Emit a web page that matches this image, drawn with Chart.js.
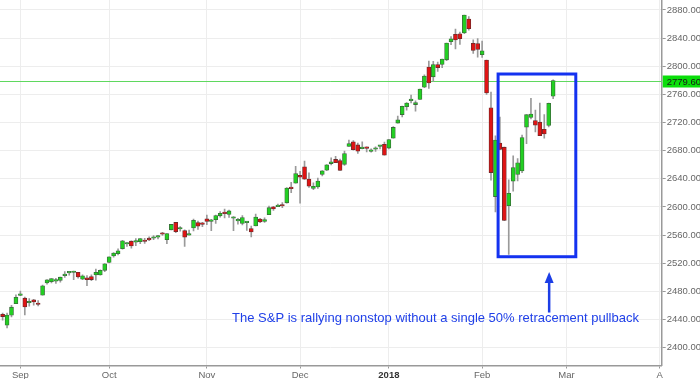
<!DOCTYPE html>
<html><head><meta charset="utf-8">
<script src="https://cdn.jsdelivr.net/npm/chart.js@4.4.1/dist/chart.umd.min.js"></script>
<style>html,body{margin:0;padding:0;background:#fff;overflow:hidden}#wrap{width:700px;height:379px;position:relative}</style>
</head><body><div id="wrap"><canvas id="c"></canvas></div>
<script>
// Trading days (x = index into these arrays)
const dates = ['2017-08-28','2017-08-29','2017-08-30','2017-08-31','2017-09-01','2017-09-05','2017-09-06','2017-09-07','2017-09-08','2017-09-11','2017-09-12','2017-09-13','2017-09-14','2017-09-15','2017-09-18','2017-09-19','2017-09-20','2017-09-21','2017-09-22','2017-09-25','2017-09-26','2017-09-27','2017-09-28','2017-09-29','2017-10-02','2017-10-03','2017-10-04','2017-10-05','2017-10-06','2017-10-09','2017-10-10','2017-10-11','2017-10-12','2017-10-13','2017-10-16','2017-10-17','2017-10-18','2017-10-19','2017-10-20','2017-10-23','2017-10-24','2017-10-25','2017-10-26','2017-10-27','2017-10-30','2017-10-31','2017-11-01','2017-11-02','2017-11-03','2017-11-06','2017-11-07','2017-11-08','2017-11-09','2017-11-10','2017-11-13','2017-11-14','2017-11-15','2017-11-16','2017-11-17','2017-11-20','2017-11-21','2017-11-22','2017-11-24','2017-11-27','2017-11-28','2017-11-29','2017-11-30','2017-12-01','2017-12-04','2017-12-05','2017-12-06','2017-12-07','2017-12-08','2017-12-11','2017-12-12','2017-12-13','2017-12-14','2017-12-15','2017-12-18','2017-12-19','2017-12-20','2017-12-21','2017-12-22','2017-12-26','2017-12-27','2017-12-28','2017-12-29','2018-01-02','2018-01-03','2018-01-04','2018-01-05','2018-01-08','2018-01-09','2018-01-10','2018-01-11','2018-01-12','2018-01-16','2018-01-17','2018-01-18','2018-01-19','2018-01-22','2018-01-23','2018-01-24','2018-01-25','2018-01-26','2018-01-29','2018-01-30','2018-01-31','2018-02-01','2018-02-02','2018-02-05','2018-02-06','2018-02-07','2018-02-08','2018-02-09','2018-02-12','2018-02-13','2018-02-14','2018-02-15','2018-02-16','2018-02-20','2018-02-21','2018-02-22','2018-02-23','2018-02-26'];
const open  = [2447.35,2431.94,2446.06,2462.65,2474.42,2470.35,2463.83,2468.06,2462.25,2474.52,2491.94,2493.89,2494.56,2495.67,2502.51,2506.29,2506.84,2507.16,2497.26,2499.39,2501.04,2503.30,2503.41,2509.96,2521.20,2530.34,2533.48,2540.86,2547.44,2551.39,2549.99,2550.62,2552.88,2555.66,2555.57,2557.17,2562.87,2553.39,2567.56,2578.08,2568.66,2566.52,2560.08,2570.26,2577.75,2575.99,2583.21,2579.46,2581.93,2587.47,2592.11,2589.41,2584.00,2580.18,2576.53,2577.75,2569.45,2572.95,2582.94,2579.49,2589.17,2600.31,2600.42,2602.66,2605.94,2627.82,2633.93,2645.10,2657.19,2639.78,2626.24,2628.38,2646.21,2652.19,2661.73,2667.59,2665.87,2660.63,2685.92,2692.71,2688.18,2683.02,2684.22,2679.09,2682.10,2686.10,2689.15,2683.73,2697.85,2719.31,2731.33,2742.67,2751.15,2745.55,2752.97,2770.18,2798.96,2784.99,2802.40,2802.60,2809.16,2835.05,2845.42,2846.24,2847.48,2867.23,2832.74,2832.41,2816.45,2808.92,2741.06,2614.78,2690.95,2685.01,2601.78,2636.75,2646.27,2651.21,2713.46,2727.14,2722.99,2720.53,2710.42,2715.80,2757.37];
const high  = [2449.12,2449.19,2460.31,2475.01,2480.38,2471.97,2469.64,2468.62,2467.11,2488.95,2496.77,2498.37,2498.43,2500.23,2508.32,2507.84,2508.85,2507.16,2503.47,2502.54,2503.51,2511.75,2510.81,2519.44,2529.23,2535.13,2540.53,2552.51,2549.41,2551.82,2555.23,2555.24,2555.33,2557.65,2559.47,2559.71,2564.11,2562.36,2575.44,2578.29,2572.18,2567.40,2567.07,2582.98,2580.03,2578.29,2588.40,2582.47,2588.42,2593.38,2597.02,2595.47,2586.50,2583.81,2587.66,2579.66,2572.84,2590.09,2583.96,2584.64,2601.19,2600.94,2604.21,2606.41,2627.69,2634.89,2657.74,2650.62,2665.19,2648.72,2634.41,2640.99,2651.65,2660.33,2669.72,2671.88,2668.09,2679.63,2694.97,2694.44,2691.01,2692.64,2685.35,2682.74,2685.64,2687.66,2692.12,2695.89,2714.37,2729.29,2743.45,2748.51,2759.14,2750.80,2767.56,2787.85,2807.54,2807.04,2805.83,2810.33,2833.03,2842.24,2852.97,2848.56,2872.87,2870.62,2837.75,2839.26,2835.96,2808.92,2763.39,2701.04,2727.67,2685.27,2638.67,2672.61,2668.84,2702.10,2731.51,2754.42,2737.60,2747.75,2731.26,2747.76,2780.64];
const low   = [2439.03,2428.20,2443.77,2462.65,2473.85,2446.55,2459.20,2460.29,2459.40,2474.52,2490.37,2492.14,2491.35,2493.16,2499.92,2503.19,2496.67,2499.00,2496.54,2488.03,2495.12,2495.91,2502.93,2507.99,2520.40,2528.85,2531.80,2540.02,2543.79,2541.60,2544.86,2547.95,2548.31,2552.09,2553.52,2554.69,2559.67,2547.92,2567.56,2563.65,2565.58,2544.00,2559.80,2565.94,2568.25,2572.15,2574.92,2566.17,2576.77,2585.66,2584.35,2585.02,2566.33,2575.57,2574.48,2566.56,2557.45,2572.95,2577.62,2578.24,2589.17,2595.23,2600.42,2598.87,2605.44,2620.32,2633.93,2605.52,2639.03,2627.73,2624.75,2626.53,2644.10,2651.47,2659.78,2662.85,2652.01,2659.14,2685.92,2680.74,2676.11,2682.40,2678.13,2677.96,2678.91,2682.69,2673.61,2682.36,2697.77,2719.07,2727.92,2737.60,2747.86,2736.06,2752.78,2769.64,2768.64,2778.38,2792.56,2798.08,2808.12,2830.59,2824.81,2830.94,2846.18,2851.48,2818.27,2813.04,2812.70,2759.97,2638.17,2593.07,2681.33,2580.56,2532.69,2622.45,2637.08,2648.87,2689.82,2725.11,2706.76,2701.29,2697.77,2713.74,2753.78];
const close = [2444.24,2446.30,2457.59,2471.65,2476.55,2457.85,2465.54,2465.10,2461.43,2488.11,2496.48,2498.37,2495.62,2500.23,2503.87,2506.65,2508.24,2500.60,2502.22,2496.66,2496.84,2507.04,2510.06,2519.36,2529.12,2534.58,2537.74,2552.07,2549.33,2544.73,2550.64,2555.24,2550.93,2553.17,2557.64,2559.36,2561.26,2562.10,2575.21,2564.98,2569.13,2557.15,2560.40,2581.07,2572.83,2575.26,2579.36,2579.85,2587.84,2591.13,2590.64,2594.38,2584.62,2582.30,2584.84,2578.87,2564.62,2585.64,2578.85,2582.14,2599.03,2597.08,2602.42,2601.42,2627.04,2626.07,2647.58,2642.22,2639.44,2629.57,2629.27,2636.98,2651.50,2659.99,2664.11,2662.85,2652.01,2675.81,2690.16,2681.47,2679.25,2684.57,2683.34,2680.50,2682.62,2687.54,2673.61,2695.81,2713.06,2723.99,2743.15,2747.71,2751.29,2748.23,2767.56,2786.24,2776.42,2802.56,2798.03,2810.30,2832.97,2839.13,2837.54,2839.25,2872.87,2853.53,2822.43,2823.81,2821.98,2762.13,2648.94,2695.14,2681.66,2581.00,2619.55,2656.00,2662.94,2698.63,2731.20,2732.22,2716.26,2701.33,2703.96,2747.30,2779.60];

// Axis ticks
const monthTickIdx = [4, 24, 46, 67, 87, 108, 127, 148];
const monthTickLabels = ['Sep', 'Oct', 'Nov', 'Dec', '2018', 'Feb', 'Mar', 'A'];
const yTicks = [2400, 2440, 2480, 2520, 2560, 2600, 2640, 2680, 2720, 2760, 2800, 2840, 2880];
const xRange = [-0.59, 148.45];
const yRange = [2374.7, 2894.2];

// Annotation (data units)
const boxX = [111.6, 129.1];
const boxY = [2529.3, 2789.0];
const noteText = 'The S\u0026P is rallying nonstop without a single 50% retracement pullback';
const notePos = [97.5, 2442.0];
const arrowTail = [123.1, 2450.0];
const arrowTip = [123.1, 2507.6];
const lastPrice = close[close.length - 1];

const FONT = '"Liberation Sans", Arial, Helvetica, sans-serif';
const UP = '#22d022', DOWN = '#e01414';

const wickData = dates.map((d, i) => ({ x: i, y: [low[i], high[i]] }));
const bodyData = dates.map((d, i) => ({ x: i, y: [open[i], close[i]] }));
const bodyFill = dates.map((d, i) => close[i] >= open[i] ? UP : DOWN);
const bodyBorder = dates.map((d, i) => close[i] >= open[i] ? '#3a6a3a' : '#6a2a2a');

const overlay = {
  id: 'overlay',
  beforeDatasetsDraw(chart) {
    const { ctx, chartArea: a, scales: { y } } = chart;
    const py = Math.round(y.getPixelForValue(lastPrice)) + 0.5;
    ctx.save();
    ctx.strokeStyle = '#5fd85f';
    ctx.lineWidth = 1;
    ctx.beginPath(); ctx.moveTo(a.left, py); ctx.lineTo(a.right, py); ctx.stroke();
    ctx.restore();
  },
  afterDraw(chart) {
    const { ctx, chartArea: a, scales: { x, y } } = chart;
    ctx.save();
    // blue box
    const x1 = x.getPixelForValue(boxX[0]), x2 = x.getPixelForValue(boxX[1]);
    const y1 = y.getPixelForValue(boxY[1]), y2 = y.getPixelForValue(boxY[0]);
    ctx.strokeStyle = '#1432f0';
    ctx.lineWidth = 3;
    ctx.strokeRect(x1, y1, x2 - x1, y2 - y1);
    // arrow
    const ax = x.getPixelForValue(arrowTip[0]);
    const ty = y.getPixelForValue(arrowTip[1]);
    const by = y.getPixelForValue(arrowTail[1]);
    ctx.strokeStyle = '#1c3ee6';
    ctx.fillStyle = '#1c3ee6';
    ctx.lineWidth = 2.5;
    ctx.beginPath(); ctx.moveTo(ax, by); ctx.lineTo(ax, ty + 8); ctx.stroke();
    ctx.beginPath(); ctx.moveTo(ax, ty); ctx.lineTo(ax - 4.5, ty + 11); ctx.lineTo(ax + 4.5, ty + 11); ctx.closePath(); ctx.fill();
    // note text
    ctx.font = '13px ' + FONT;
    ctx.fillStyle = '#2040e8';
    ctx.textAlign = 'center';
    ctx.textBaseline = 'middle';
    ctx.fillText(noteText, x.getPixelForValue(notePos[0]), y.getPixelForValue(notePos[1]));
    // last price tag
    const py = Math.round(y.getPixelForValue(lastPrice)) + 0.5;
    ctx.fillStyle = '#0ade0a';
    ctx.fillRect(a.right + 1, py - 6, chart.width - a.right, 12);
    ctx.fillStyle = '#1a1a1a';
    ctx.font = '9.5px ' + FONT;
    ctx.textAlign = 'left';
    ctx.fillText(lastPrice.toFixed(2), a.right + 5, py + 0.5);
    ctx.restore();
  }
};

new Chart(document.getElementById('c'), {
  type: 'bar',
  data: {
    datasets: [
      { label: 'body', data: bodyData, order: 0, grouped: false, barThickness: 4, minBarLength: 1.5,
        backgroundColor: bodyFill, borderColor: bodyBorder, borderWidth: 0.8, borderSkipped: false },
      { label: 'wick', data: wickData, order: 1, grouped: false, barThickness: 1,
        backgroundColor: '#9a9a9a', borderWidth: 0 }
    ]
  },
  options: {
    responsive: true,
    maintainAspectRatio: false,
    animation: false,
    layout: { padding: 0 },
    plugins: { legend: { display: false }, tooltip: { enabled: false } },
    scales: {
      x: {
        type: 'linear', min: xRange[0], max: xRange[1], offset: false,
        afterBuildTicks(s) { s.ticks = monthTickIdx.map(v => ({ value: v })); },
        afterFit(s) { s.height = 13.5; s.paddingLeft = 0; s.paddingRight = 0; },
        grid: { offset: false, color: '#ededed', lineWidth: 1, drawTicks: true, tickLength: 3, tickColor: '#999' },
        border: { display: true, color: '#999', width: 1.5 },
        ticks: {
          autoSkip: false, maxRotation: 0, minRotation: 0, padding: 1,
          color: (c) => (c.tick && c.tick.value === 87) ? '#333' : '#666',
          font: (c) => ({ family: FONT, size: 9.5, weight: (c.tick && c.tick.value === 87) ? 'bold' : 'normal' }),
          callback: (v) => { const k = monthTickIdx.indexOf(v); return k >= 0 ? monthTickLabels[k] : ''; }
        }
      },
      y: {
        type: 'linear', position: 'right', min: yRange[0], max: yRange[1],
        afterBuildTicks(s) { s.ticks = yTicks.map(v => ({ value: v })); },
        afterFit(s) { s.width = 38.3; s.paddingTop = 0; s.paddingBottom = 0; },
        grid: { color: '#ededed', lineWidth: 1, drawTicks: true, tickLength: 4, tickColor: '#999' },
        border: { display: true, color: '#999', width: 1.5 },
        ticks: { padding: 1, color: '#666', font: { family: FONT, size: 9.5 }, callback: (v) => Number(v).toFixed(2) }
      }
    }
  },
  plugins: [overlay]
});
</script>
</body></html>
